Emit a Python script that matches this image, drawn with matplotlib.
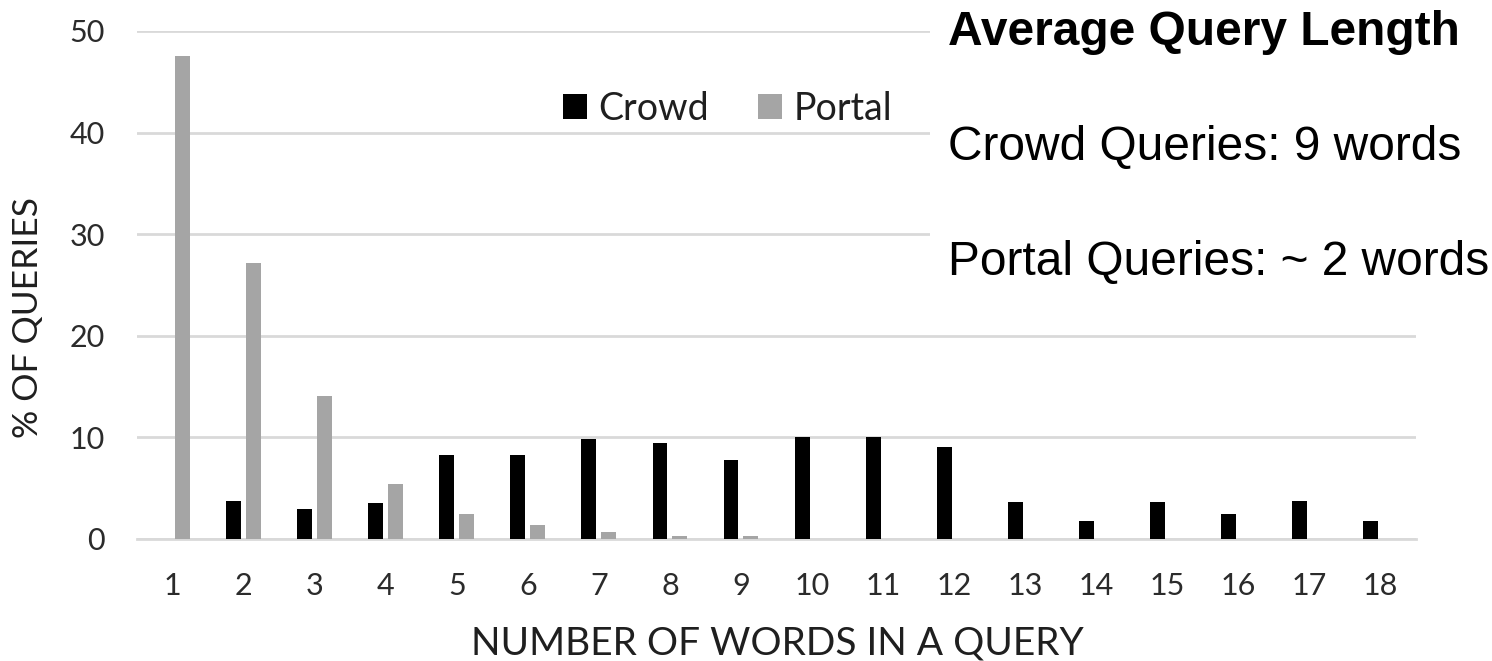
import matplotlib
matplotlib.use("Agg")
import matplotlib.pyplot as plt
from matplotlib.patches import Rectangle
import numpy as np

categories = [str(i) for i in range(1, 19)]
crowd = [0, 3.7, 3.0, 3.55, 8.3, 8.3, 9.8, 9.4, 7.8, 10.0, 10.0, 9.05, 3.6, 1.75, 3.6, 2.45, 3.75, 1.75]
portal = [47.5, 27.2, 14.1, 5.4, 2.45, 1.35, 0.65, 0.25, 0.25, 0, 0, 0, 0, 0, 0, 0, 0, 0]
yticks = [0, 10, 20, 30, 40, 50]
series_names = ["Crowd", "Portal"]
note_title = "Average Query Length"
note_lines = ["Crowd Queries: 9 words", "Portal Queries: ~ 2 words"]

W, H = 1492, 661
fig = plt.figure(figsize=(W / 100, H / 100), dpi=100)
left, right, top, bottom = 137, 1416, 31, 539
ax = fig.add_axes([left / W, 1 - bottom / H, (right - left) / W, (bottom - top) / H])

x = np.arange(1, len(categories) + 1)
bw = 0.21
off = 0.14
ax.bar(x - off, crowd, width=bw, color="#000000", label=series_names[0], zorder=3)
ax.bar(x + off, portal, width=bw, color="#a5a5a5", label=series_names[1], zorder=3)

ax.set_xlim(0.5, len(categories) + 0.5)
ax.set_ylim(0, 50)
ax.set_yticks(yticks)
ax.set_xticks(x)
ax.set_xticklabels(categories)
ax.yaxis.grid(True, color="#d9d9d9", linewidth=2.0, zorder=0)
ax.set_axisbelow(True)
for s in ["top", "right", "left"]:
    ax.spines[s].set_visible(False)
ax.spines["bottom"].set_color("#d9d9d9")
ax.spines["bottom"].set_linewidth(2.0)
ax.tick_params(axis="both", length=0, labelsize=22, labelcolor="#2b2b2b")
ax.tick_params(axis="y", pad=23)
ax.tick_params(axis="x", pad=24)
for lab in ax.get_xticklabels() + ax.get_yticklabels():
    lab.set_family("Lato")

leg = ax.legend(loc="upper left", bbox_to_anchor=(563 / W, 1 - 91 / H), bbox_transform=fig.transFigure,
                ncol=2, frameon=False, prop={"family": "Lato", "size": 27},
                handlelength=0.65, handleheight=0.65, handletextpad=0.3, columnspacing=1.3,
                borderpad=0, borderaxespad=0)
for t in leg.get_texts():
    t.set_color("#1f1f1f")

fig.text(28 / W, 1 - 317 / H, "% OF QUERIES", rotation=90, ha="center", va="center",
         family="Lato", size=25.5, color="#1f1f1f")
fig.text(777 / W, 1 - 655 / H, "NUMBER OF WORDS IN A QUERY", ha="center", va="baseline",
         family="Lato", size=28, color="#1f1f1f")

fig.patches.append(Rectangle((930 / W, 1 - 290 / H), (W - 930) / W, 290 / H,
                             transform=fig.transFigure, facecolor="white", edgecolor="none", zorder=1))
fig.text(948 / W, 1 - 45 / H, note_title, ha="left", va="baseline", family="Liberation Sans",
         weight="bold", size=34.5, color="black", zorder=4)
fig.text(948 / W, 1 - 160 / H, note_lines[0], ha="left", va="baseline", family="Liberation Sans",
         size=34.5, color="black", zorder=4)
fig.text(948 / W, 1 - 275 / H, note_lines[1], ha="left", va="baseline", family="Liberation Sans",
         size=34.5, color="black", zorder=4)

fig.savefig("out.png", dpi=100)
